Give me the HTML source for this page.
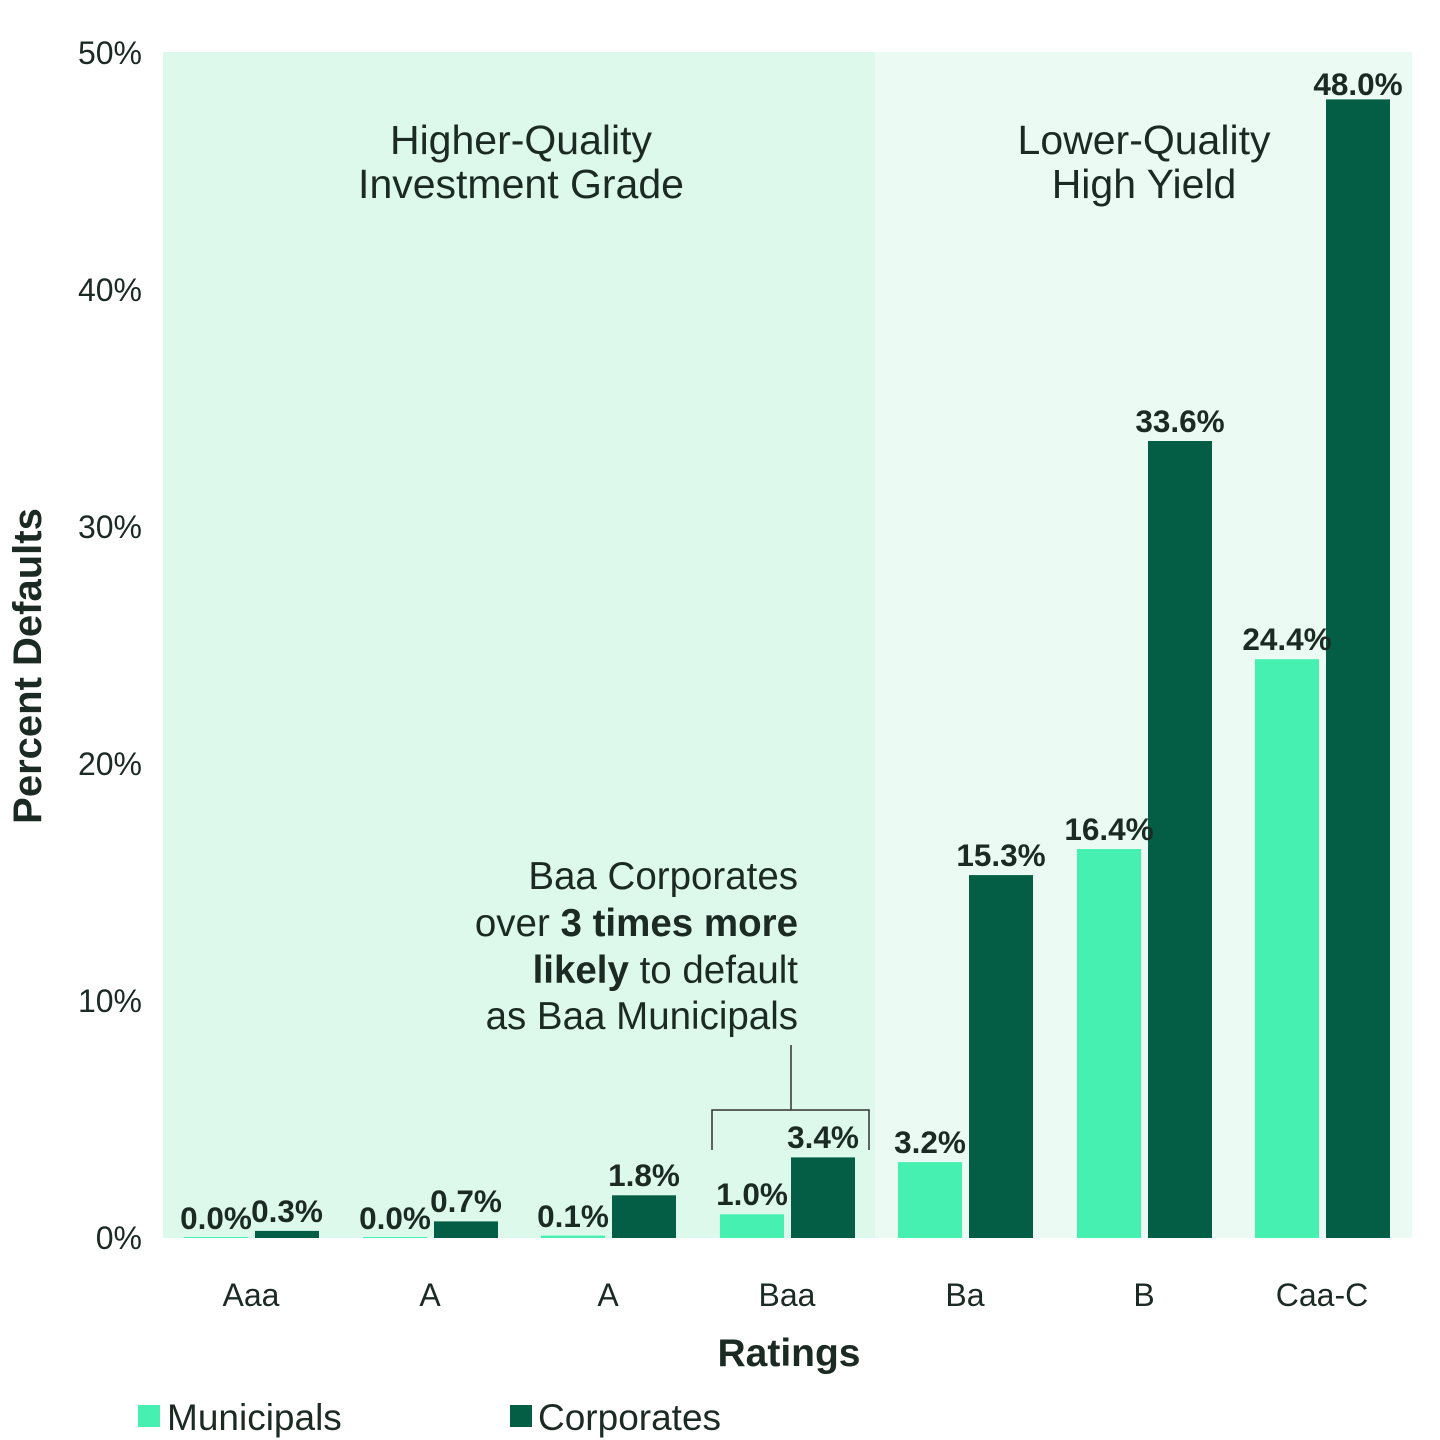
<!DOCTYPE html>
<html><head><style>body{margin:0;background:#fff}svg{display:block}text{font-family:"Liberation Sans",Arial,sans-serif;fill:#1c2a24}</style></head><body>
<svg width="1440" height="1440" viewBox="0 0 1440 1440">
<rect x="163" y="52" width="712" height="1186" fill="#dcf9eb"/>
<rect x="875" y="52" width="537" height="1186" fill="#ebfbf3"/>
<g font-size="32" text-anchor="end">
<text x="142" y="1249">0%</text><text x="142" y="1012">10%</text><text x="142" y="775">20%</text><text x="142" y="538">30%</text><text x="142" y="301">40%</text><text x="142" y="64">50%</text>
</g>
<text transform="translate(41,666) rotate(-90)" font-size="40" font-weight="bold" text-anchor="middle">Percent Defaults</text>
<g font-size="41" text-anchor="middle">
<text x="521" y="154">Higher-Quality</text><text x="521" y="198">Investment Grade</text>
<text x="1144" y="154">Lower-Quality</text><text x="1144" y="198">High Yield</text>
</g>
<g font-size="38.5" text-anchor="end">
<text x="798" y="889">Baa Corporates</text>
<text x="798" y="936">over <tspan font-weight="bold">3 times more</tspan></text>
<text x="798" y="983"><tspan font-weight="bold">likely</tspan> to default</text>
<text x="798" y="1029">as Baa Municipals</text>
</g>
<path d="M791 1045V1110M712 1150V1110H869V1150" stroke="#333" stroke-width="1.5" fill="none"/>
<g fill="#45f0b0">
<rect x="184" y="1237" width="64" height="1"/>
<rect x="363" y="1237" width="64" height="1"/>
<rect x="541" y="1235.6" width="64" height="2.4"/>
<rect x="720" y="1214.3" width="64" height="23.7"/>
<rect x="898" y="1162.1" width="64" height="75.9"/>
<rect x="1077" y="849" width="64" height="389"/>
<rect x="1255" y="659.2" width="64" height="578.8"/>
</g>
<g fill="#035e45">
<rect x="255" y="1230.9" width="64" height="7.1"/>
<rect x="434" y="1221.4" width="64" height="16.6"/>
<rect x="612" y="1195.3" width="64" height="42.7"/>
<rect x="791" y="1157.4" width="64" height="80.6"/>
<rect x="969" y="875.1" width="64" height="362.9"/>
<rect x="1148" y="441" width="64" height="797"/>
<rect x="1326" y="99.4" width="64" height="1138.6"/>
</g>
<g font-size="31.5" font-weight="bold" text-anchor="middle">
<text x="216" y="1229">0.0%</text>
<text x="395" y="1229">0.0%</text>
<text x="573" y="1227">0.1%</text>
<text x="752" y="1205">1.0%</text>
<text x="930" y="1153">3.2%</text>
<text x="1109" y="840">16.4%</text>
<text x="1287" y="650">24.4%</text>
<text x="287" y="1222">0.3%</text>
<text x="466" y="1212">0.7%</text>
<text x="644" y="1186">1.8%</text>
<text x="823" y="1148">3.4%</text>
<text x="1001" y="866">15.3%</text>
<text x="1180" y="432">33.6%</text>
<text x="1358" y="95">48.0%</text>
</g>
<g font-size="32" text-anchor="middle">
<text x="251" y="1306">Aaa</text><text x="430" y="1306">A</text><text x="608" y="1306">A</text><text x="787" y="1306">Baa</text><text x="965" y="1306">Ba</text><text x="1144" y="1306">B</text><text x="1322" y="1306">Caa-C</text>
</g>
<text x="789" y="1366" font-size="39" font-weight="bold" text-anchor="middle">Ratings</text>
<rect x="138" y="1405" width="22" height="22" fill="#45f0b0"/><text x="167" y="1430" font-size="37">Municipals</text>
<rect x="510" y="1405" width="22" height="22" fill="#035e45"/><text x="538" y="1430" font-size="37">Corporates</text>
</svg>
</body></html>
